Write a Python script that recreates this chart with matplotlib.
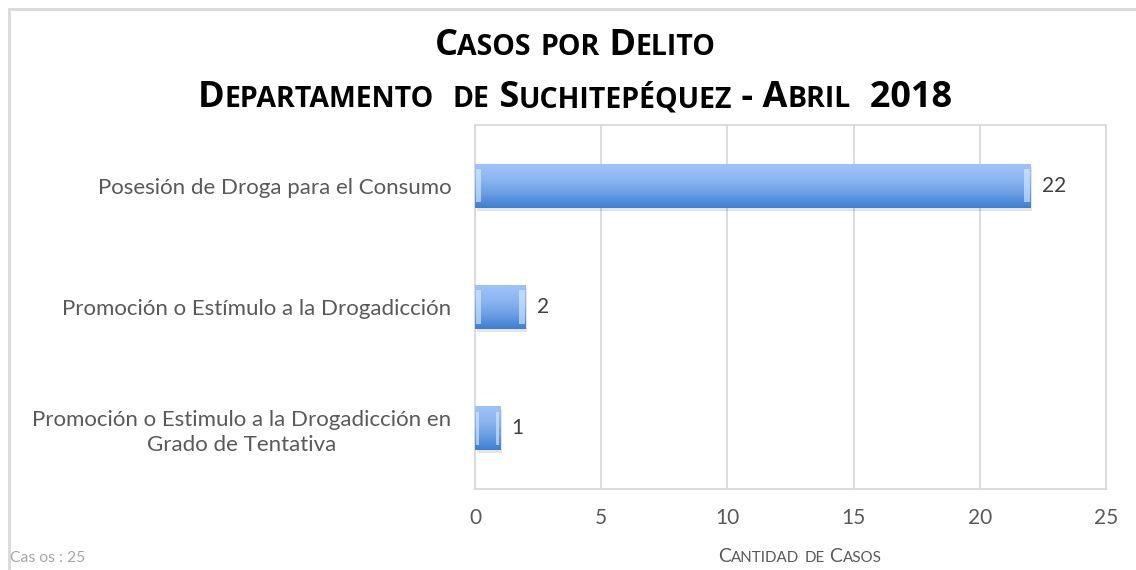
import numpy as np
import matplotlib
matplotlib.use('Agg')
import matplotlib.pyplot as plt
from matplotlib.patches import Rectangle

# datos
categorias = ['Promoción o Estimulo a la Drogadicción en\nGrado de Tentativa',
              'Promoción o Estímulo a la Drogadicción',
              'Posesión de Droga para el Consumo']
casos = [1, 2, 22]
ticks_x = [0, 5, 10, 15, 20, 25]
titulo1 = 'Casos por Delito'
titulo2 = 'Departamento  de Suchitepéquez - Abril  2018'
eje_x = 'Cantidad de Casos'
nota = 'Cas os : 25'

gris = '#595959'
linea = '#d9d9d9'


def small_caps(fig, texto, xc, y, size, ratio=0.75, weight='normal', color='black', family='Lato'):
    # versalitas: minusculas en mayuscula mas pequena
    r = fig.canvas.get_renderer()
    runs = []
    for ch in texto:
        low = ch.islower()
        if runs and runs[-1][1] == low:
            runs[-1][0] += ch
        else:
            runs.append([ch, low])
    objs = []
    widths = []
    for s, low in runs:
        s2 = s.upper() if low else s
        fs = size * ratio if low else size
        t = fig.text(0, y, s2, fontsize=fs, weight=weight, color=color,
                     family=family, ha='left', va='baseline')
        # ancho con espacios
        a = fig.text(0, 0, 'x' + s2 + 'x', fontsize=fs, weight=weight, family=family)
        b = fig.text(0, 0, 'xx', fontsize=fs, weight=weight, family=family)
        w = a.get_window_extent(r).width - b.get_window_extent(r).width
        a.remove()
        b.remove()
        objs.append(t)
        widths.append(w)
    W = fig.bbox.width
    x0 = xc * W - sum(widths) / 2
    for t, w in zip(objs, widths):
        t.set_x(x0 / W)
        x0 += w


fig = plt.figure(figsize=(11.36, 5.70), dpi=100)
ax = fig.add_axes([475 / 1136, 81 / 570, 631 / 1136, 364 / 570])

ypos = np.arange(len(categorias))
bars = ax.barh(ypos, casos, height=0.36, color='#7aa9ea', zorder=3)

# degradado en cada barra (claro arriba, oscuro abajo)
grad = np.linspace(0, 1, 64).reshape(-1, 1)
cmap = matplotlib.colors.LinearSegmentedColormap.from_list(
    'b', ['#9ec3f8', '#8db6f1', '#6b9fe4', '#3f7ed2'])
for b in bars:
    x0, y0 = b.get_x(), b.get_y()
    w, h = b.get_width(), b.get_height()
    sh = Rectangle((x0 + 0.06, y0 - 0.025), w, h, color='#000000', alpha=0.10,
                   zorder=2, lw=0)
    ax.add_patch(sh)
    im = ax.imshow(grad, extent=(x0, x0 + w, y0, y0 + h), aspect='auto',
                   cmap=cmap, origin='upper', zorder=4)
    im.set_clip_path(b)
    e = min(0.22, w * 0.12)
    for xe in (x0 + 0.03, x0 + w - e - 0.03):
        hl = Rectangle((xe, y0 + h * 0.12), e, h * 0.76, color='#dcefff',
                       alpha=0.6, zorder=5, lw=0)
        ax.add_patch(hl)
    ax.text(x0 + w + 0.45, y0 + h / 2, str(int(w)), va='center', ha='left',
            fontsize=15, color='#404040', family='Lato')

ax.set_xlim(0, 25)
ax.set_ylim(-0.5, 2.5)
ax.set_xticks(ticks_x)
ax.set_xticklabels([str(t) for t in ticks_x], fontsize=15, color=gris, family='Lato')
ax.set_yticks(ypos)
ax.set_yticklabels(categorias, fontsize=16, color=gris, family='Lato',
                   multialignment='center', linespacing=1.3)
ax.tick_params(length=0, pad=17)
ax.tick_params(axis='x', pad=14)
ax.grid(axis='x', color=linea, lw=1.3, zorder=0)
for s in ax.spines.values():
    s.set_color(linea)
    s.set_linewidth(1.3)

# borde exterior
fig.add_artist(Rectangle((9 / 1136, -0.01), 1.1, (570 - 9) / 570 + 0.01,
                         transform=fig.transFigure, fill=False, ec=linea, lw=2))

small_caps(fig, titulo1, 575 / 1136, (570 - 55) / 570, 26, ratio=0.79,
           weight='bold', family='Open Sans')
small_caps(fig, titulo2, 575 / 1136, (570 - 107) / 570, 26, ratio=0.79,
           weight='bold', family='Open Sans')
small_caps(fig, eje_x, 800 / 1136, (570 - 562) / 570, 14, ratio=0.78, color=gris)
fig.text(10 / 1136, (570 - 562) / 570, nota, fontsize=11.3, color='#a6a6a6',
         family='Lato', va='baseline')

fig.savefig('out.png', dpi=100)
